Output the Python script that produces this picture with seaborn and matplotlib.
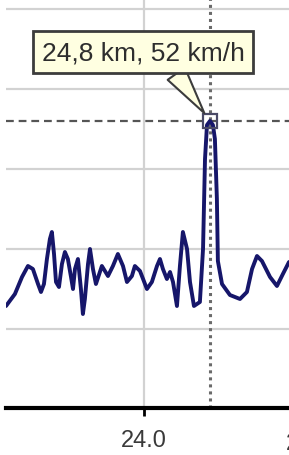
import matplotlib
matplotlib.use("Agg")
import matplotlib.pyplot as plt
import seaborn as sns
import pandas as pd

# distance (km) and speed (km/h)
distance_km = [23.164, 23.218, 23.261, 23.297, 23.327, 23.358, 23.376, 23.394, 23.412, 23.430,
               23.442, 23.455, 23.467, 23.485, 23.503, 23.521, 23.539, 23.558, 23.570, 23.582,
               23.600, 23.618, 23.630, 23.642, 23.661, 23.673, 23.691, 23.709, 23.745, 23.782,
               23.812, 23.842, 23.873, 23.897, 23.927, 23.945, 23.976, 24.018, 24.048, 24.079,
               24.097, 24.115, 24.139, 24.158, 24.176, 24.200, 24.218, 24.236, 24.261, 24.279,
               24.303, 24.339, 24.358, 24.370, 24.382, 24.400, 24.418, 24.430, 24.442, 24.448,
               24.473, 24.521, 24.582, 24.624, 24.655, 24.685, 24.715, 24.764, 24.806, 24.842,
               24.879]
speed_kmh = [5.75, 8.75, 13.0, 15.75, 15.0, 11.25, 9.25, 11.25, 17.5, 22.5,
             24.25, 18.75, 11.75, 10.5, 16.25, 19.25, 17.5, 13.0, 10.0, 15.0,
             17.5, 10.0, 3.75, 7.5, 16.25, 20.0, 15.0, 11.25, 15.75, 13.25,
             15.75, 18.75, 15.75, 11.75, 13.25, 15.75, 14.5, 10.0, 11.75, 15.75,
             17.5, 15.0, 12.5, 14.25, 11.75, 5.75, 15.75, 24.25, 20.0, 11.75,
             5.75, 6.75, 20.0, 42.5, 51.0, 52.0, 51.0, 47.5, 32.5, 17.0,
             11.25, 8.5, 7.5, 9.25, 15.0, 18.25, 17.0, 13.0, 10.75, 13.75,
             16.75]

x_ticks = [24.0, 25.0]
x_tick_labels = ["24.0", "25.0"]
y_grid = [0, 20, 40, 60, 80]

peak_km = 24.4
peak_speed = 52
peak_label = "24,8 km, 52 km/h"

df = pd.DataFrame({"km": distance_km, "speed": speed_kmh})

sns.set_style("white")
plt.rcParams["font.family"] = ["Liberation Sans", "DejaVu Sans"]

fig = plt.figure(figsize=(2.89, 4.56), dpi=100)
ax = fig.add_axes([6 / 289, 47 / 456, 283 / 289, 409 / 456])

# Gitterlinien
for y in y_grid:
    ax.axhline(y, color="#d2d2d2", lw=1.6, zorder=0)
for x in x_ticks:
    ax.axvline(x, color="#d2d2d2", lw=1.6, zorder=0)

# Markierung
ax.axhline(peak_speed, color="#555555", lw=1.6, ls=(0, (3.5, 2.2)), zorder=1)
ax.axvline(peak_km, color="#6a6a6a", lw=2.2, ls=(0, (1, 1.3)), zorder=1)

sns.lineplot(data=df, x="km", y="speed", ax=ax, color="#16166a", lw=2.8,
             sort=False, zorder=3, solid_joinstyle="round", solid_capstyle="round")

ax.plot([peak_km], [peak_speed], marker="s", ms=10, mfc="none", mec="#4a4a66",
        mew=1.6, zorder=4)

ax.annotate(peak_label, xy=(peak_km, peak_speed), xytext=(-67, 69),
            textcoords="offset pixels", ha="center", va="center",
            fontsize=19, color="#2e2e2e",
            bbox=dict(boxstyle="square,pad=0.33", fc="#ffffe1", ec="#3c3c3c", lw=2),
            arrowprops=dict(arrowstyle="wedge,tail_width=0.8,shrink_factor=0.5",
                            fc="#ffffe1", ec="#3c3c3c", lw=1.5,
                            relpos=(0.63, 0), shrinkA=0, shrinkB=7),
            zorder=6)

ax.set_xlim(23.164, 24.879)
ax.set_ylim(-19.75, 82.5)

ax.set_xticks(x_ticks[:1])
ax.set_xticklabels(x_tick_labels[:1])
ax.set_yticks([])
ax.tick_params(axis="x", length=6, width=2, pad=9, labelsize=17,
               labelcolor="#3a3a3a", color="black", bottom=True)
# label of the next tick, cut by the edge like in the screenshot
ax.text(x_ticks[1], -0.058, x_tick_labels[1], transform=ax.get_xaxis_transform(),
        ha="center", va="top", fontsize=17, color="#3a3a3a", clip_on=False)

for side in ["top", "left", "right"]:
    ax.spines[side].set_visible(False)
ax.spines["bottom"].set_linewidth(3)
ax.spines["bottom"].set_color("black")
ax.set_xlabel("")
ax.set_ylabel("")

fig.savefig("out.png", dpi=100)
